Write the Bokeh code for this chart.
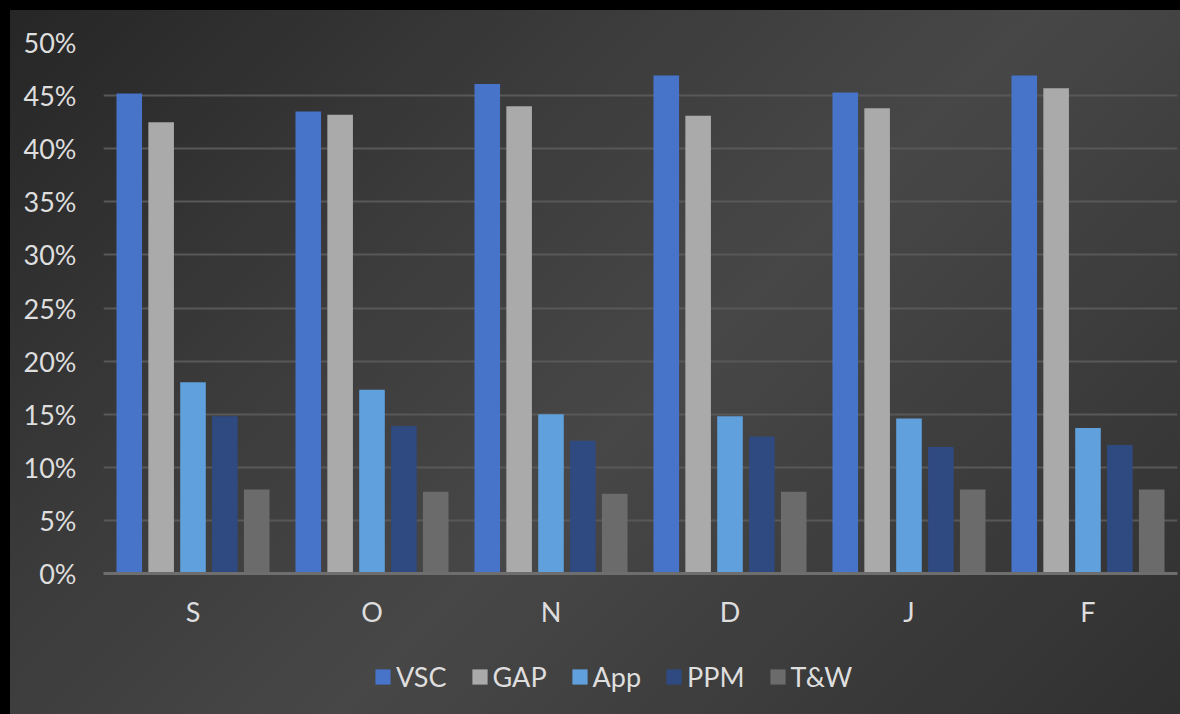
from bokeh.plotting import figure
from bokeh.models import (ColumnDataSource, Legend, LegendItem, NumeralTickFormatter,
                          FixedTicker)
from bokeh.transform import dodge
from bokeh.layouts import column
from bokeh.embed import file_html
from bokeh.resources import INLINE

# ---- data (percent) ----
months = ["S", "O", "N", "D", "J", "F"]
series = ["VSC", "GAP", "App", "PPM", "T&W"]
vsc = [45.2, 43.5, 46.1, 46.9, 45.3, 46.9]
gap = [42.5, 43.2, 44.0, 43.1, 43.8, 45.7]
app = [18.0, 17.3, 15.0, 14.8, 14.6, 13.7]
ppm = [14.8, 13.9, 12.5, 12.9, 11.9, 12.1]
tw = [7.9, 7.7, 7.5, 7.7, 7.9, 7.9]
y_ticks = [0, 5, 10, 15, 20, 25, 30, 35, 40, 45, 50]

colors = ["#4773c9", "#aaaaaa", "#5fa0dd", "#2f4a80", "#6b6b6b"]
fields = ["VSC", "GAP", "App", "PPM", "TW"]

src = ColumnDataSource(dict(
    month=months,
    VSC=[v / 100 for v in vsc],
    GAP=[v / 100 for v in gap],
    App=[v / 100 for v in app],
    PPM=[v / 100 for v in ppm],
    TW=[v / 100 for v in tw],
))

FONT = "Lato"
TXT = "#dedede"
FS = "27px"
GRAD = ("linear-gradient(135deg, #262626 0%, #3a3a3a 30%, #474747 55%, "
        "#3a3a3a 80%, #303030 100%)")

p = figure(x_range=months, y_range=(0, 0.5), width=1170, height=640,
           output_backend="svg", toolbar_location=None,
           min_border_left=93, min_border_right=3, min_border_top=32,
           min_border_bottom=77)
p.background_fill_color = None
p.border_fill_color = None
p.outline_line_color = None

pitch = 0.178
bw = 0.143
for i, (f, c) in enumerate(zip(fields, colors)):
    p.vbar(x=dodge("month", (i - 2) * pitch, range=p.x_range), top=f, width=bw,
           bottom=0, source=src, fill_color=c, line_color=None)

# y axis
p.yaxis.ticker = FixedTicker(ticks=[t / 100 for t in y_ticks])
p.yaxis.formatter = NumeralTickFormatter(format="0%")
p.yaxis.axis_line_color = None
p.yaxis.major_tick_line_color = None
p.yaxis.major_tick_out = 0
p.yaxis.major_tick_in = 0
p.yaxis.minor_tick_line_color = None
p.yaxis.major_label_standoff = 27
p.yaxis.major_label_text_font = FONT
p.yaxis.major_label_text_font_size = FS
p.yaxis.major_label_text_color = TXT

# x axis
p.xaxis.axis_line_color = "#6e6e6e"
p.xaxis.axis_line_width = 3
p.xaxis.major_tick_line_color = None
p.xaxis.major_tick_out = 0
p.xaxis.major_tick_in = 0
p.xaxis.minor_tick_line_color = None
p.xaxis.major_label_standoff = 21
p.xaxis.major_label_text_font = FONT
p.xaxis.major_label_text_font_size = FS
p.xaxis.major_label_text_color = TXT

p.xgrid.grid_line_color = None
p.ygrid.grid_line_color = "#585858"
p.ygrid.grid_line_width = 2

# ---- legend strip (same series, drawn outside its visible y range) ----
pl = figure(x_range=p.x_range, y_range=(2, 3), width=1170, height=64,
            output_backend="svg", toolbar_location=None, min_border=0)
pl.background_fill_color = None
pl.border_fill_color = None
pl.outline_line_color = None
pl.axis.visible = False
pl.grid.visible = False
items = []
for i, (f, name, c) in enumerate(zip(fields, series, colors)):
    r = pl.vbar(x=dodge("month", (i - 2) * pitch, range=pl.x_range), top=f, width=bw,
                bottom=0, source=src, fill_color=c, line_color=None)
    items.append(LegendItem(label=name, renderers=[r]))

legend = Legend(items=items, orientation="horizontal", location=(270, 21),
                glyph_width=19, glyph_height=19, label_standoff=4, spacing=23,
                padding=0, margin=0, background_fill_alpha=0, border_line_color=None,
                label_text_font=FONT, label_text_font_size=FS,
                label_text_color=TXT)
pl.add_layout(legend)

inner = column(p, pl, margin=(10, 0, 0, 10), spacing=0, styles={"background": GRAD})
layout = column(inner, styles={"background-color": "#000000"})

open("out.html", "w").write(file_html(layout, INLINE))
